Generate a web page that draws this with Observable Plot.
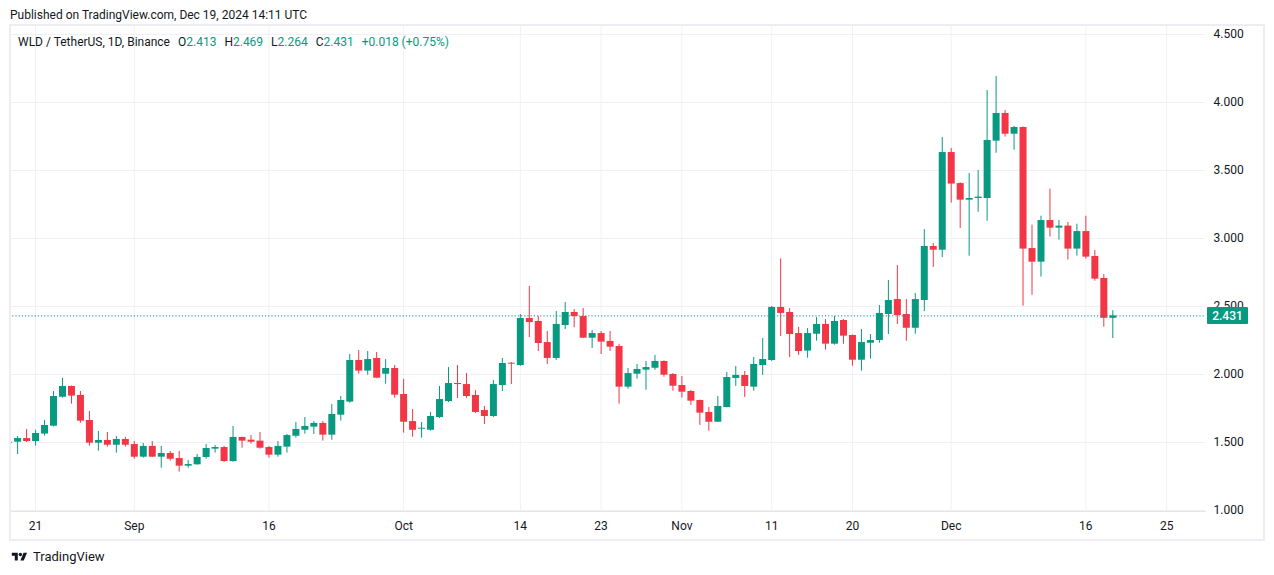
<!DOCTYPE html>
<html>
<head>
<meta charset="utf-8">
<script src="https://cdn.jsdelivr.net/npm/d3@7"></script>
<script src="https://cdn.jsdelivr.net/npm/@observablehq/plot@0.6"></script>
<style>
  html, body { margin: 0; padding: 0; background: #ffffff; }
  body { font-family: Roboto, "Noto Sans", sans-serif; color: #131722; }
  #root { position: relative; width: 1274px; height: 575px; overflow: hidden; }
  #pub { position: absolute; left: 10px; top: 7px; font-size: 12px; line-height: 16px; white-space: nowrap; }
  #frame { position: absolute; left: 9px; top: 24px; width: 1256px; height: 517px; box-sizing: border-box; border: 2px solid #eceef3; pointer-events: none; }
  #chart { position: absolute; left: 0; top: 25px; }
  #legend { position: absolute; left: 18px; top: 34px; font-size: 12px; line-height: 16px; white-space: nowrap; }
  #legend .g { margin-left: 8px; }
  #legend .v { color: #089981; }
  #footer { position: absolute; left: 10px; top: 549px; font-size: 13px; line-height: 16px; display: flex; align-items: center; gap: 4px; }
</style>
</head>
<body>
<div id="root">
  <div id="pub">Published on TradingView.com, Dec 19, 2024 14:11 UTC</div>
  <div id="chart"></div>
  <div id="frame"></div>
  <div id="legend"></div>
  <div id="footer">
    <svg width="19" height="12" viewBox="0 0 36 28"><path fill="#131722" d="M14 22H7V11H0V4h14v18zM28 22h-8l7.5-18h8L28 22z"/><circle fill="#131722" cx="20" cy="8" r="4"/></svg>
    <span>TradingView</span>
  </div>
</div>
<script>
// ---------- data ----------
const firstDay = "2024-08-18";
const lastDay = "2024-12-19";

const opens = [
  1.495,1.502,1.529,1.507,1.562,1.620,1.833,1.912,1.846,1.662,1.495,1.515,1.480,1.522,
  1.485,1.392,1.471,1.392,1.419,1.382,1.326,1.336,1.390,1.451,1.463,1.360,1.537,1.517,1.510,1.463,
  1.407,1.466,1.546,1.590,1.613,1.640,1.554,1.701,1.797,2.103,2.025,2.118,2.002,2.044,
  1.853,1.654,1.598,1.590,1.684,1.801,1.934,1.926,1.846,1.735,1.691,1.919,2.083,2.066,2.412,2.390,
  2.235,2.118,2.360,2.456,2.426,2.267,2.301,2.243,2.206,1.907,2.002,2.032,2.046,2.096,2.000,
  1.919,1.875,1.809,1.721,1.649,1.757,1.971,1.993,1.907,2.066,2.103,2.493,2.456,2.301,2.172,
  2.296,2.368,2.223,2.397,2.287,2.105,2.230,2.250,2.441,2.551,2.441,2.340,2.544,2.941,2.914,
  3.632,3.404,3.282,3.294,3.294,3.716,3.919,3.767,3.816,2.926,2.826,3.132,3.076,3.091,2.922,
  3.051,2.868,2.706,2.413
];
const highs = [
  1.510,1.544,1.596,1.590,1.662,1.875,1.971,1.915,1.875,1.728,1.581,1.574,1.544,1.537,
  1.507,1.493,1.507,1.471,1.434,1.434,1.368,1.412,1.485,1.478,1.471,1.618,1.540,1.551,1.574,1.471,
  1.507,1.559,1.647,1.684,1.654,1.654,1.779,1.838,2.147,2.176,2.169,2.162,2.110,2.066,
  1.963,1.743,1.647,1.721,1.912,2.051,2.066,2.007,1.882,1.765,1.956,2.118,2.088,2.441,2.647,2.426,
  2.316,2.463,2.529,2.478,2.485,2.324,2.316,2.316,2.221,2.044,2.074,2.096,2.140,2.100,2.007,
  1.985,1.882,1.812,1.757,1.838,2.015,2.059,2.022,2.125,2.265,2.500,2.850,2.485,2.346,2.338,
  2.419,2.404,2.426,2.404,2.290,2.331,2.294,2.507,2.691,2.801,2.551,2.596,3.066,2.963,3.743,
  3.662,3.410,3.478,3.500,4.088,4.191,3.941,3.824,3.820,3.098,3.164,3.363,3.132,3.118,3.105,
  3.164,2.912,2.735,2.469
];
const lows = [
  1.490,1.412,1.500,1.473,1.547,1.615,1.826,1.782,1.642,1.473,1.436,1.466,1.421,1.466,
  1.377,1.385,1.390,1.311,1.363,1.282,1.311,1.333,1.377,1.422,1.353,1.355,1.458,1.488,1.451,1.385,
  1.392,1.422,1.532,1.561,1.559,1.510,1.517,1.657,1.789,2.002,1.995,1.970,1.929,1.826,
  1.569,1.539,1.532,1.583,1.676,1.794,1.824,1.824,1.713,1.632,1.684,1.875,1.926,2.060,2.272,2.169,
  2.074,2.103,2.331,2.343,2.265,2.191,2.147,2.169,1.782,1.892,1.966,1.884,2.030,1.980,1.877,
  1.826,1.774,1.625,1.583,1.647,1.755,1.912,1.831,1.877,1.993,2.096,2.279,2.125,2.140,2.120,
  2.245,2.179,2.216,2.223,2.061,2.025,2.113,2.230,2.294,2.368,2.245,2.296,2.463,2.787,2.860,
  3.260,3.074,2.870,3.193,3.127,3.627,3.745,3.649,2.502,2.583,2.716,3.010,2.988,2.841,2.870,
  2.848,2.686,2.348,2.264
];
const closes = [
  1.502,1.529,1.507,1.566,1.625,1.838,1.912,1.841,1.657,1.495,1.515,1.480,1.522,1.480,
  1.392,1.471,1.392,1.419,1.377,1.326,1.338,1.390,1.456,1.463,1.360,1.537,1.510,1.502,1.458,1.407,
  1.471,1.551,1.596,1.618,1.640,1.554,1.706,1.809,2.103,2.025,2.110,1.973,2.044,1.848,
  1.649,1.590,1.605,1.691,1.816,1.934,1.926,1.838,1.721,1.691,1.926,2.081,2.076,2.412,2.382,2.228,
  2.118,2.368,2.456,2.426,2.267,2.301,2.238,2.201,1.907,2.007,2.037,2.051,2.096,1.995,1.914,
  1.870,1.804,1.716,1.649,1.765,1.978,1.993,1.912,2.074,2.110,2.493,2.449,2.294,2.169,2.301,
  2.368,2.223,2.390,2.282,2.105,2.235,2.250,2.449,2.544,2.434,2.340,2.551,2.941,2.914,3.632,
  3.400,3.282,3.294,3.304,3.721,3.919,3.767,3.816,2.922,2.826,3.132,3.076,3.091,2.922,3.051,
  2.863,2.701,2.413,2.431
];

const yTicks = [1.0, 1.5, 2.0, 2.5, 3.0, 3.5, 4.0, 4.5];
const xTickDates = ["2024-08-21","2024-09-01","2024-09-16","2024-10-01","2024-10-14","2024-10-23",
                    "2024-11-01","2024-11-11","2024-11-20","2024-12-01","2024-12-16","2024-12-25"];
const xTickLabels = ["21","Sep","16","Oct","14","23","Nov","11","20","Dec","16","25"];

// ---------- build ----------
const UP = "#089981", DOWN = "#F23645", GRID = "#f0f1f4";
const days = d3.utcDay.range(new Date(firstDay), d3.utcDay.offset(new Date(lastDay), 1));
const candles = days.map((date, i) => ({date, open: opens[i], high: highs[i], low: lows[i], close: closes[i]}));
const tickDates = xTickDates.map(s => new Date(s));
const last = candles[candles.length - 1];
const prev = candles[candles.length - 2];
const colorOf = d => d.close >= d.open ? UP : DOWN;

const chart = Plot.plot({
  width: 1274,
  height: 515,
  marginLeft: 9,
  marginRight: 69,
  marginTop: 0,
  marginBottom: 29,
  x: {type: "utc", domain: [new Date(Date.UTC(2024, 7, 18, 2, 19)), new Date(Date.UTC(2024, 11, 29, 7, 50))]},
  y: {domain: [0.99265, 4.56618]},
  style: {fontFamily: "Roboto, 'Noto Sans', sans-serif", fontSize: "12px", color: "#131722", background: "transparent", overflow: "visible"},
  marks: [
    Plot.ruleY(yTicks, {stroke: GRID, strokeWidth: 1}),
    Plot.ruleX(tickDates, {stroke: GRID, strokeWidth: 1}),
    Plot.frame({anchor: "bottom", stroke: "#e3e5ea"}),
    Plot.ruleX(candles, {x: "date", y1: "low", y2: "high", stroke: colorOf, strokeWidth: 1, clip: true}),
    Plot.ruleX(candles, {x: "date", y1: "open", y2: "close", stroke: colorOf, strokeWidth: 7, clip: true}),
    Plot.ruleY([last.close], {stroke: UP, strokeWidth: 1, strokeDasharray: "1.2,2"}),
    Plot.axisY({anchor: "right", ticks: yTicks, tickFormat: d3.format(".3f"), tickSize: 0, tickPadding: 8, fontSize: 12, label: null}),
    Plot.axisX({ticks: tickDates, tickFormat: (d, i) => xTickLabels[i], tickSize: 0, tickPadding: 10, fontSize: 12, label: null})
  ]
});
document.getElementById("chart").appendChild(chart);

// current price label on the price axis, positioned through the y scale
const ys = chart.scale("y");
const svg = d3.select(chart);
const py = ys.apply(last.close);
const g = svg.append("g");
g.append("rect").attr("x", 1207).attr("y", py - 8.5).attr("width", 41).attr("height", 17).attr("rx", 1).attr("fill", UP);
g.append("text").attr("x", 1227.5).attr("y", py).attr("dy", "0.35em").attr("text-anchor", "middle")
  .attr("fill", "#ffffff").attr("font-size", 12).attr("font-weight", 500).text(d3.format(".3f")(last.close));

// legend
const chg = last.close - prev.close;
const pct = chg / prev.close * 100;
const f3 = d3.format(".3f");
document.getElementById("legend").innerHTML =
  `<span>WLD / TetherUS, 1D, Binance</span>` +
  `<span class="g">O<span class="v">${f3(last.open)}</span></span>` +
  `<span class="g">H<span class="v">${f3(last.high)}</span></span>` +
  `<span class="g">L<span class="v">${f3(last.low)}</span></span>` +
  `<span class="g">C<span class="v">${f3(last.close)}</span></span>` +
  `<span class="g v">${chg >= 0 ? "+" : ""}${f3(chg)} (${pct >= 0 ? "+" : ""}${d3.format(".2f")(pct)}%)</span>`;
</script>
</body>
</html>
